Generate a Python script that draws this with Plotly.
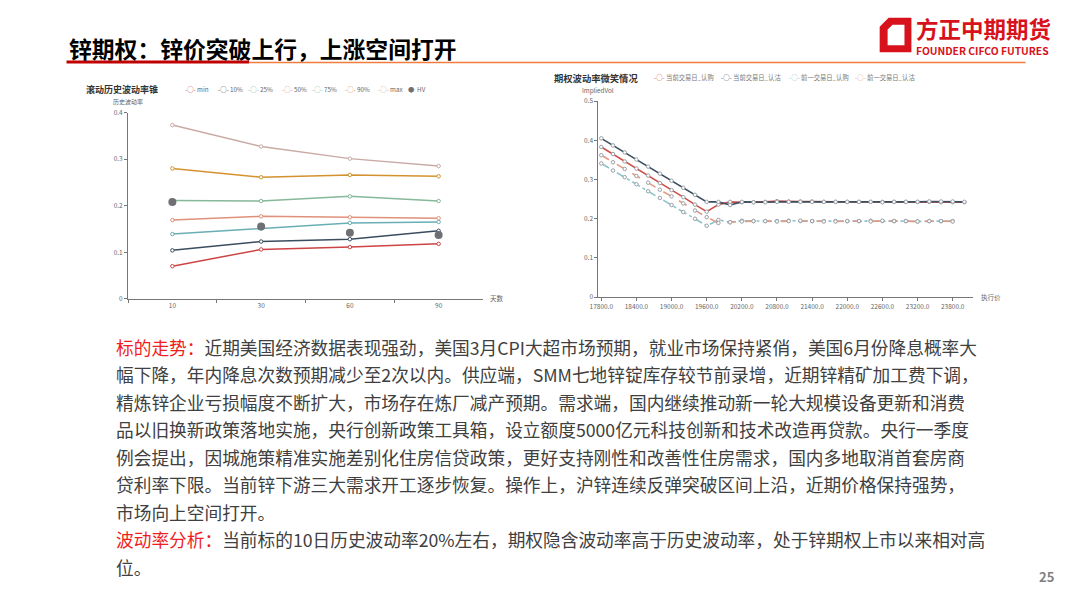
import plotly.graph_objects as go

W, H = 1080, 608


def px(x):
    return x / W


def py(y):
    return 1 - y / H


FONT = "Noto Sans CJK SC"

# ---------------- left chart data: rolling HV cone ----------------
days = ['10', '30', '60', '90']
cone_names = ['min', '10%', '25%', '50%', '75%', '90%', 'max']
vol_min = [0.070, 0.106, 0.111, 0.118]
vol_p10 = [0.104, 0.123, 0.128, 0.146]
vol_p25 = [0.139, 0.151, 0.163, 0.165]
vol_p50 = [0.169, 0.177, 0.175, 0.173]
vol_p75 = [0.211, 0.210, 0.220, 0.210]
vol_p90 = [0.280, 0.261, 0.266, 0.263]
vol_max = [0.373, 0.327, 0.301, 0.285]
hv_name = 'HV'
hv = [0.208, 0.155, 0.142, 0.137]
cone_colors = ['#cc4444', '#3a4d5e', '#6aaeb5', '#e0917a', '#86b89a', '#d4922f', '#c9aaa5']
hv_color = '#6e7074'

# ---------------- right chart data: volatility smile ----------------
strikes = [17800, 18000, 18200, 18400, 18600, 18800, 19000, 19200, 19400, 19600,
           19800, 20000, 20200, 20400, 20600, 20800, 21000, 21200, 21400, 21600,
           21800, 22000, 22200, 22400, 22600, 22800, 23000, 23200, 23400, 23600,
           23800, 24000]
smile_names = ['当前交易日_认购', '当前交易日_认沽', '前一交易日_认购', '前一交易日_认沽']
cur_call = [0.383, 0.365, 0.346, 0.328, 0.310, 0.291, 0.273, 0.255, 0.236, 0.218,
            0.236, 0.243, 0.242, 0.242, 0.243, 0.245, 0.244, 0.244, 0.244, 0.243,
            0.243, 0.243, 0.243, 0.243, 0.243, 0.243, 0.243, 0.243, 0.243, 0.242,
            0.242, 0.242]
cur_put = [0.405, 0.387, 0.369, 0.351, 0.333, 0.315, 0.297, 0.279, 0.261, 0.243,
           0.243, 0.235, 0.243, 0.242, 0.242, 0.243, 0.243, 0.243, 0.243, 0.243,
           0.243, 0.243, 0.243, 0.243, 0.242, 0.243, 0.243, 0.243, 0.244, 0.244,
           0.244, 0.243]
prev_call = [0.341, 0.323, 0.306, 0.288, 0.270, 0.253, 0.235, 0.217, 0.200, 0.182,
             0.197, 0.191, 0.195, 0.194, 0.194, 0.194, 0.195, 0.194, 0.194, 0.194,
             0.194, 0.194, 0.194, 0.195, 0.194, 0.194, 0.194, 0.193, 0.194, 0.194,
             0.194]
prev_put = [0.362, 0.344, 0.327, 0.309, 0.292, 0.274, 0.257, 0.239, 0.221, 0.204,
            0.189, 0.191, 0.193, 0.194, 0.194, 0.193, 0.194, 0.195, 0.194, 0.193,
            0.193, 0.194, 0.194, 0.193, 0.195, 0.194, 0.194, 0.193, 0.194, 0.194,
            0.193]
smile_colors = ['#d0504a', '#3d5060', '#8cc3cc', '#e59a85']
smile_dash = ['solid', 'solid', 'dashdot', 'dash']

# ---------------- texts ----------------
page_title = '锌期权：锌价突破上行，上涨空间打开'
logo_cn = '方正中期期货'
logo_en = 'FOUNDER CIFCO FUTURES'
left_title = '滚动历史波动率锥'
left_yname = '历史波动率'
left_xname = '天数'
right_title = '期权波动率微笑情况'
right_yname = 'ImpliedVol'
right_xname = '执行价'
page_no = '25'
body_lines = [
    ('标的走势：', '近期美国经济数据表现强劲，美国3月CPI大超市场预期，就业市场保持紧俏，美国6月份降息概率大'),
    ('', '幅下降，年内降息次数预期减少至2次以内。供应端，SMM七地锌锭库存较节前录增，近期锌精矿加工费下调，'),
    ('', '精炼锌企业亏损幅度不断扩大，市场存在炼厂减产预期。需求端，国内继续推动新一轮大规模设备更新和消费'),
    ('', '品以旧换新政策落地实施，央行创新政策工具箱，设立额度5000亿元科技创新和技术改造再贷款。央行一季度'),
    ('', '例会提出，因城施策精准实施差别化住房信贷政策，更好支持刚性和改善性住房需求，国内多地取消首套房商'),
    ('', '贷利率下限。当前锌下游三大需求开工逐步恢复。操作上，沪锌连续反弹突破区间上沿，近期价格保持强势，'),
    ('', '市场向上空间打开。'),
    ('波动率分析：', '当前标的10日历史波动率20%左右，期权隐含波动率高于历史波动率，处于锌期权上市以来相对高'),
    ('', '位。'),
]

fig = go.Figure()

cone_vals = [vol_min, vol_p10, vol_p25, vol_p50, vol_p75, vol_p90, vol_max]
for name, vals, col in zip(cone_names, cone_vals, cone_colors):
    fig.add_trace(go.Scatter(
        x=days, y=vals, name=name, mode='lines+markers', xaxis='x', yaxis='y',
        line=dict(color=col, width=1.5),
        marker=dict(symbol='circle', size=3.5, color='white', line=dict(color=col, width=1)),
    ))
fig.add_trace(go.Scatter(
    x=days, y=hv, name=hv_name, mode='markers', xaxis='x', yaxis='y',
    marker=dict(symbol='circle', size=8, color=hv_color),
))

smile_vals = [cur_call, cur_put, prev_call, prev_put]
for name, vals, col, dash in zip(smile_names, smile_vals, smile_colors, smile_dash):
    fig.add_trace(go.Scatter(
        x=strikes[:len(vals)], y=vals, name=name, mode='lines+markers', xaxis='x2', yaxis='y2',
        line=dict(color=col, width=1.6, dash=dash),
        marker=dict(symbol='circle', size=3.5, color='white', line=dict(color='#9aa0a6', width=1)),
    ))

axis_common = dict(
    showline=True, linecolor='#777777', linewidth=1, showgrid=False, zeroline=False,
    ticks='outside', ticklen=3, tickcolor='#777777',
    tickfont=dict(family=FONT, size=6.5, color='#666666'),
)

fig.update_layout(
    width=W, height=H, margin=dict(l=0, r=0, t=0, b=0),
    paper_bgcolor='white', plot_bgcolor='white', showlegend=False,
    font=dict(family=FONT),
    xaxis=dict(domain=[px(120), px(478)], anchor='y', type='category',
               categoryorder='array', categoryarray=days, range=[-0.5, 3.5],
               tickson='boundaries', **axis_common),
    yaxis=dict(domain=[py(297.7), py(108.3)], anchor='x', range=[0, 0.4], dtick=0.1,
               **axis_common),
    xaxis2=dict(domain=[px(594.3), px(972.3)], anchor='y2', range=[17750, 24150],
                tickvals=strikes[::3], ticktext=[f'{v:.1f}' for v in strikes[::3]],
                **axis_common),
    yaxis2=dict(domain=[py(296), py(96.7)], anchor='x2', range=[0, 0.5], dtick=0.1,
                **axis_common),
)

ann = []


def add_text(x, y, text, size, color='#333333', xanchor='left', bold=False):
    t = f'<b>{text}</b>' if bold else text
    ann.append(dict(x=px(x), y=py(y), xref='paper', yref='paper', text=t, showarrow=False,
                    xanchor=xanchor, yanchor='middle', align=xanchor if xanchor != 'center' else 'center',
                    borderpad=0,
                    font=dict(family=FONT, size=size, color=color)))


# header
add_text(59, 43, page_title, 22.8, '#000000', bold=True)
add_text(914, 22, logo_cn, 22.5, '#d7121c', bold=True)
add_text(914, 45, logo_en, 10.3, '#d7121c', bold=True)
add_text(1046, 580, page_no, 13, '#7f7f7f', xanchor='center', bold=True)

# chart titles & axis names
add_text(77, 85, left_title, 9, '#333333', bold=True)
add_text(120, 97.5, left_yname, 6, '#666666', xanchor='center')
add_text(484, 297, left_xname, 6.5, '#666666')
add_text(549, 73, right_title, 9.3, '#333333', bold=True)
add_text(594, 86, right_yname, 6.3, '#666666', xanchor='center')
add_text(979, 296, right_xname, 6.5, '#666666')

# legends
left_leg_x = [176.5, 210, 240, 274, 305, 338, 371]
for name, col, lx in zip(cone_names, cone_colors, left_leg_x):
    add_text(lx, 84.5, f'<span style="color:{col}">-○-</span> {name}', 6.3, '#666666')
add_text(401, 84.5, f'<span style="color:{hv_color}">●</span>  {hv_name}', 6.3, '#666666')

right_leg_x = [649, 717, 786, 852]
for name, col, lx in zip(smile_names, smile_colors, right_leg_x):
    add_text(lx, 73, f'<span style="color:{col}">-○-</span> {name}', 6.3, '#777777')

# body text
for i, (label, body) in enumerate(body_lines):
    y = 346.5 + i * 27.94
    txt = (f'<span style="color:#f01e1e">{label}</span>' if label else '') + body
    add_text(107, y, txt, 17.7, '#404040')

fig.update_layout(annotations=ann)


def path_px(points_list):
    parts = []
    for pts in points_list:
        s = 'M ' + ' L '.join(f'{px(x):.5f},{py(y):.5f}' for x, y in pts) + ' Z'
        parts.append(s)
    return ' '.join(parts)


shapes = [
    dict(type='line', xref='paper', yref='paper', x0=px(58), x1=px(242), y0=py(57), y1=py(57),
         line=dict(color='#c00000', width=3)),
    dict(type='line', xref='paper', yref='paper', x0=px(242), x1=px(1025), y0=py(57.5), y1=py(57.5),
         line=dict(color='#f07d3c', width=1.5)),
    dict(type='path', xref='paper', yref='paper',
         path=path_px([[(878, 21), (887, 12), (910, 12), (910, 47), (878, 47)],
                       [(886, 24), (886, 40), (903, 40), (903, 19), (891, 19)]]),
         fillcolor='#d7121c', line=dict(width=0)),
]
fig.update_layout(shapes=shapes)

fig.write_html('out.html')
